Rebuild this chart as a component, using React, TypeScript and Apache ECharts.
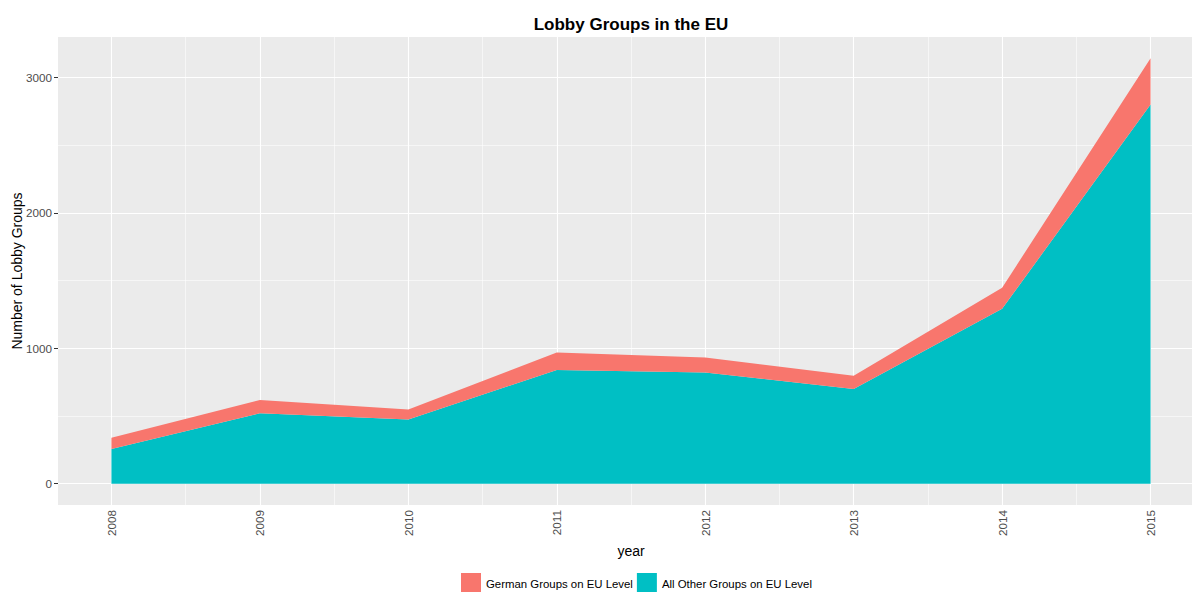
import React, { useEffect, useRef } from "react";
import * as echarts from "echarts";

const years = [2008, 2009, 2010, 2011, 2012, 2013, 2014, 2015];
const otherGroups = [256, 520, 475, 841, 821, 700, 1292, 2801];
const germanGroups = [84, 98, 74, 129, 112, 97, 156, 342];

const yMajorBreaks = [0, 1000, 2000, 3000];
const yMinorBreaks = [500, 1500, 2500];
const xMajorBreaks = years;
const xMinorBreaks = [2008.5, 2009.5, 2010.5, 2011.5, 2012.5, 2013.5, 2014.5];

const seriesNames = ["German Groups on EU Level", "All Other Groups on EU Level"];

const FONT = "'Liberation Sans', Arial, Helvetica, sans-serif";

export default function App() {
  const ref = useRef<HTMLDivElement>(null);
  useEffect(() => {
    document.body.style.margin = "0";
    document.body.style.overflow = "hidden";
    const chart = echarts.init(ref.current!, null, { renderer: "svg" });
    const major = { color: "#FFFFFF", width: 1.1, type: "solid" };
    const minor = { color: "#FFFFFF", width: 0.55, type: "solid" };
    const gridLines = [
      ...yMinorBreaks.map((v) => ({ yAxis: v, lineStyle: minor })),
      ...xMinorBreaks.map((v) => ({ xAxis: v, lineStyle: minor })),
      ...yMajorBreaks.map((v) => ({ yAxis: v, lineStyle: major })),
      ...xMajorBreaks.map((v) => ({ xAxis: v, lineStyle: major })),
    ];
    chart.setOption({
      animation: false,
      textStyle: { fontFamily: FONT },
      grid: {
        left: 58,
        top: 37,
        width: 1146,
        height: 468,
        show: true,
        backgroundColor: "#EBEBEB",
        borderWidth: 0,
      },
      xAxis: {
        type: "value",
        min: 2007.64,
        max: 2015.36,
        axisLine: { show: false },
        splitLine: { show: false },
        axisTick: { show: true, length: 4, lineStyle: { color: "#333333", width: 1 }, customValues: xMajorBreaks },
        axisLabel: {
          customValues: xMajorBreaks,
          rotate: 90,
          margin: 5,
          color: "#4D4D4D",
          fontSize: 11.7,
          fontFamily: FONT,
          formatter: (v: number) => String(Math.round(v)),
        },
      },
      yAxis: {
        type: "value",
        min: -157,
        max: 3300,
        splitNumber: 3,
        axisLine: { show: false },
        splitLine: { show: false },
        axisTick: { show: true, length: 4, lineStyle: { color: "#333333", width: 1 }, customValues: yMajorBreaks },
        axisLabel: {
          customValues: yMajorBreaks,
          margin: 6,
          color: "#4D4D4D",
          fontSize: 11.7,
          fontFamily: FONT,
          formatter: (v: number) => String(Math.round(v)),
        },
      },
      legend: {
        left: 461,
        top: 573,
        padding: 0,
        itemWidth: 20,
        itemHeight: 22,
        itemGap: 4,
        icon: "rect",
        data: seriesNames,
        textStyle: { color: "#000000", fontSize: 11.4, fontFamily: FONT },
      },
      graphic: [
        {
          type: "text",
          x: 631,
          y: 24,
          style: {
            text: "Lobby Groups in the EU",
            font: `bold 17px ${FONT}`,
            fill: "#000000",
            textAlign: "center",
            textVerticalAlign: "middle",
          },
        },
        {
          type: "text",
          x: 631,
          y: 551,
          style: {
            text: "year",
            font: `14px ${FONT}`,
            fill: "#000000",
            textAlign: "center",
            textVerticalAlign: "middle",
          },
        },
        {
          type: "text",
          x: 17,
          y: 271,
          rotation: Math.PI / 2,
          style: {
            text: "Number of Lobby Groups",
            font: `14px ${FONT}`,
            fill: "#000000",
            textAlign: "center",
            textVerticalAlign: "middle",
          },
        },
      ],
      series: [
        {
          name: seriesNames[1],
          type: "line",
          stack: "total",
          color: "#00BFC4",
          showSymbol: false,
          symbol: "none",
          lineStyle: { width: 0 },
          areaStyle: { color: "#00BFC4", opacity: 1 },
          z: 3,
          encode: { x: 1, y: 0 },
          data: years.map((y, i) => [otherGroups[i], y]),
          markLine: {
            silent: true,
            z: 1,
            symbol: ["none", "none"],
            label: { show: false },
            emphasis: { disabled: true },
            data: gridLines,
          },
        },
        {
          name: seriesNames[0],
          type: "line",
          stack: "total",
          color: "#F8766D",
          showSymbol: false,
          symbol: "none",
          lineStyle: { width: 0 },
          areaStyle: { color: "#F8766D", opacity: 1 },
          z: 3,
          encode: { x: 1, y: 0 },
          data: years.map((y, i) => [germanGroups[i], y]),
        },
      ],
    });
    return () => chart.dispose();
  }, []);
  return <div ref={ref} style={{ width: 1210, height: 592 }} />;
}
